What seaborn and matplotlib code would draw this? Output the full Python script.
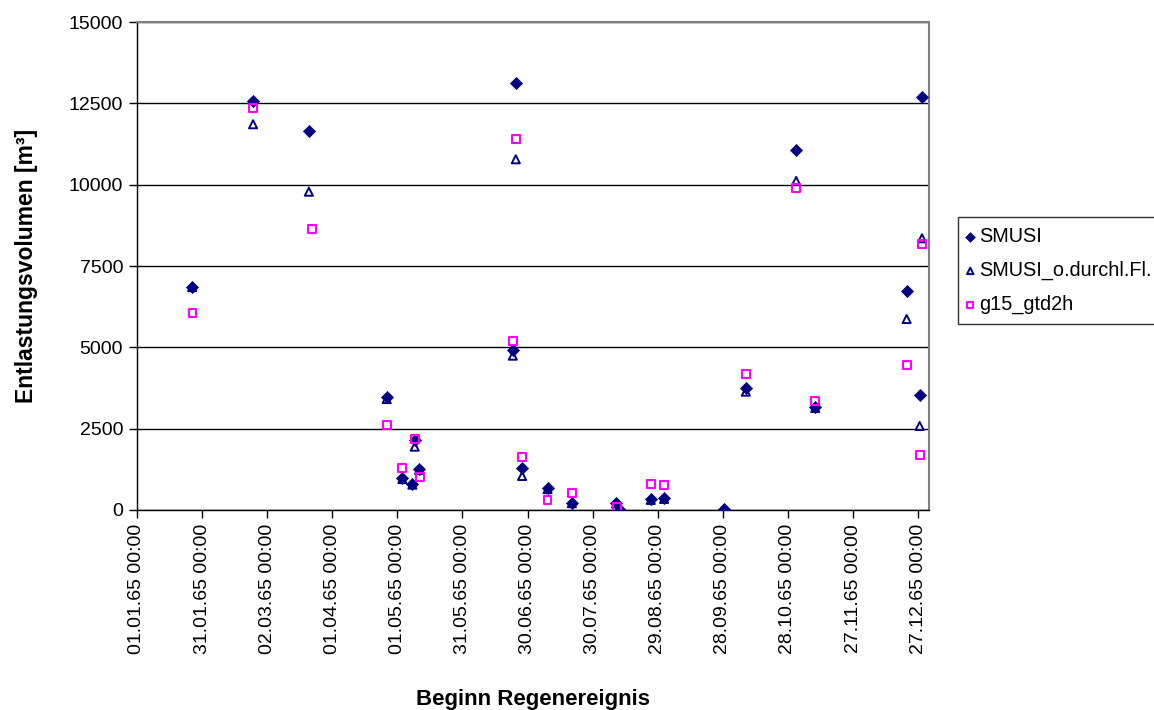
import pandas as pd
import numpy as np
import seaborn as sns
import matplotlib.pyplot as plt

# event start times
dates = ["1965-01-26 10:00", "1965-02-23 12:00", "1965-03-21 05:00", "1965-04-26 02:00",
         "1965-05-03 07:00", "1965-05-07 22:00", "1965-05-09 00:00", "1965-05-11 00:00",
         "1965-06-23 05:00", "1965-06-24 14:00", "1965-06-27 12:00", "1965-07-09 05:00",
         "1965-07-20 10:00", "1965-08-09 19:00", "1965-08-11 17:00", "1965-08-25 19:00",
         "1965-08-31 22:00", "1965-09-28 14:00", "1965-10-08 14:00", "1965-10-31 19:00",
         "1965-11-09 14:00", "1965-12-21 17:00", "1965-12-27 17:00", "1965-12-28 19:00"]
g15_dates = ["1965-01-26 14:00", "1965-02-23 12:00", "1965-03-22 14:00", "1965-04-26 02:00",
             "1965-05-03 07:00", "1965-05-07 22:00", "1965-05-09 00:00", "1965-05-11 08:00",
             "1965-06-23 05:00", "1965-06-24 14:00", "1965-06-27 12:00", "1965-07-09 05:00",
             "1965-07-20 10:00", "1965-08-10 07:00", "1965-08-11 17:00", "1965-08-25 19:00",
             "1965-08-31 22:00", "1965-09-28 14:00", "1965-10-08 14:00", "1965-10-31 19:00",
             "1965-11-09 14:00", "1965-12-21 17:00", "1965-12-27 17:00", "1965-12-28 19:00"]

smusi = [6846, 12582, 11660, 3483, 974, 800, 2152, 1260, 4918, 13117, 1281, 667,
         225, 225, 0, 328, 359, 40, 3740, 11067, 3177, 6732, 3525, 12706]
smusi_o = [6850, 11857, 9785, 3410, 950, 780, 1947, 1230, 4744, 10781, 1045, 640,
           210, 200, 0, 310, 340, 30, 3637, 10114, 3135, 5871, 2582, 8352]
g15 = [6047, 12350, 8638, 2613, 1281, np.nan, 2183, 1014, 5205, 11396, 1620, 307,
       533, 103, np.nan, 799, 779, np.nan, 4191, 9908, 3340, 4457, 1701, 8168]

tick_dates = pd.date_range("1965-01-01", periods=13, freq="30D")

sns.set_style("white")
plt.rcParams['font.family'] = ['Liberation Sans', 'DejaVu Sans']
plt.rcParams['text.color'] = 'black'
plt.rcParams['axes.labelcolor'] = 'black'
plt.rcParams['xtick.color'] = 'black'
plt.rcParams['ytick.color'] = 'black'

fig = plt.figure(figsize=(11.54, 7.10), dpi=100)
ax = fig.add_axes([0.1187, 0.2817, 0.6863, 0.6873])

x = pd.to_datetime(dates)
x15 = pd.to_datetime(g15_dates)

sns.scatterplot(x=x, y=smusi, marker="D", s=38, color="#000080", edgecolor="#000080",
                linewidth=0.5, label="SMUSI", ax=ax, zorder=3)
sns.scatterplot(x=x, y=smusi_o, marker="^", s=34, facecolor="none", edgecolor="#000080",
                linewidth=1.4, label="SMUSI_o.durchl.Fl.", ax=ax, zorder=4)
sns.scatterplot(x=x15, y=g15, marker="s", s=32, facecolor="none", edgecolor="#FF00FF",
                linewidth=1.5, label="g15_gtd2h", ax=ax, zorder=5)

ax.set_xlim(pd.Timestamp("1965-01-01"), pd.Timestamp("1966-01-01"))
ax.set_ylim(0, 15000)
ax.set_yticks(np.arange(0, 15001, 2500))
ax.set_yticklabels([str(v) for v in range(0, 15001, 2500)])
ax.set_xticks(tick_dates)
ax.set_xticklabels([d.strftime("%d.%m.%y %H:%M") for d in tick_dates], rotation=90)
ax.tick_params(axis="both", direction="out", length=6, width=1, color="black",
               labelsize=14, pad=4, left=True, bottom=True)

ax.grid(axis="y", color="black", linewidth=1)
ax.set_axisbelow(True)
for side in ["top", "right"]:
    ax.spines[side].set_color("#808080")
    ax.spines[side].set_linewidth(1.5)
for side in ["left", "bottom"]:
    ax.spines[side].set_color("black")
    ax.spines[side].set_linewidth(1)

ax.set_xlabel("Beginn Regenereignis", fontsize=16, fontweight="bold", labelpad=25)
ax.set_ylabel("Entlastungsvolumen [m³]", fontsize=16.5, fontweight="bold", labelpad=22)

leg = ax.legend(loc="upper left", bbox_to_anchor=(0.830, 0.694), bbox_transform=fig.transFigure,
                fontsize=14.3, frameon=True, fancybox=False, shadow=False, borderpad=0.5,
                labelspacing=0.75, handlelength=0.25, handletextpad=0.3, markerscale=0.8,
                borderaxespad=0)
leg.get_frame().set_edgecolor("black")
leg.get_frame().set_linewidth(1)

fig.savefig("out.png", dpi=100)
